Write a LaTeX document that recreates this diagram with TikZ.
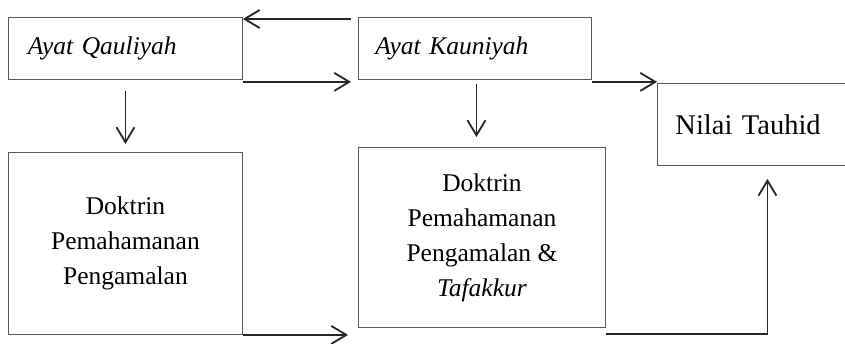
\documentclass[tikz,border=0pt]{standalone}
\usepackage{fontspec}
\setmainfont{Liberation Serif}
\usetikzlibrary{arrows.meta}
\begin{document}
\begin{tikzpicture}[x=1pt,y=-1pt,
  box/.style={draw=black!65, line width=0.9pt, inner sep=0pt, text=black,
    font=\fontsize{25.5}{35}\selectfont, anchor=north west},
  lbox/.style={box, align=left, text width=#1},
  cbox/.style={box, align=center},
  arr/.style={draw=black!85, line width=1.8pt, -{Straight Barb[length=15pt,width=18pt]}},
]
\useasboundingbox (0,0) rectangle (845,344);
\clip (0,0) rectangle (845,344);

\node[lbox=195pt, minimum width=234pt, minimum height=62pt] (A) at (8,17) {\itshape Ayat Qauliyah};
\node[lbox=199pt, minimum width=233pt, minimum height=62pt] (B) at (358,17) {\itshape Ayat Kauniyah};
\node[lbox=184pt, minimum width=220pt, minimum height=82pt, font=\fontsize{28.5}{35}\selectfont] (C) at (657,83) {Nilai Tauhid};
\node[cbox, minimum width=234pt, minimum height=182pt] (D) at (8,152) {Doktrin\\Pemahamanan\\Pengamalan};
\node[cbox, minimum width=247pt, minimum height=180pt] (E) at (358,147) {Doktrin\\Pemahamanan\\Pengamalan \&\\\textit{Tafakkur}};

\coordinate (p1) at (D.south east -| E.west);
\coordinate (p2) at ([xshift=1.5pt]B.south);

\draw[arr] ([shift={(-7pt,-2pt)}]B.north west) -- ([yshift=-2pt]A.north east);
\draw[arr] ([yshift=-2pt]A.south east) -- ([shift={(-7pt,-2pt)}]B.south west);
\draw[arr] ([yshift=-2pt]B.south east) -- ([yshift=-2pt]B.south east -| C.west);
\draw[arr] ([yshift=-11pt]A.south) -- ([yshift=8pt]D.north);
\draw[arr] ([yshift=-4pt]p2) -- ([yshift=10pt]p2 |- E.north);
\draw[arr] (D.south east) -- ([xshift=-10pt]p1);
\draw[arr] ([yshift=-6pt]E.south east) -| ([yshift=-13pt]C.south);
\end{tikzpicture}
\end{document}
